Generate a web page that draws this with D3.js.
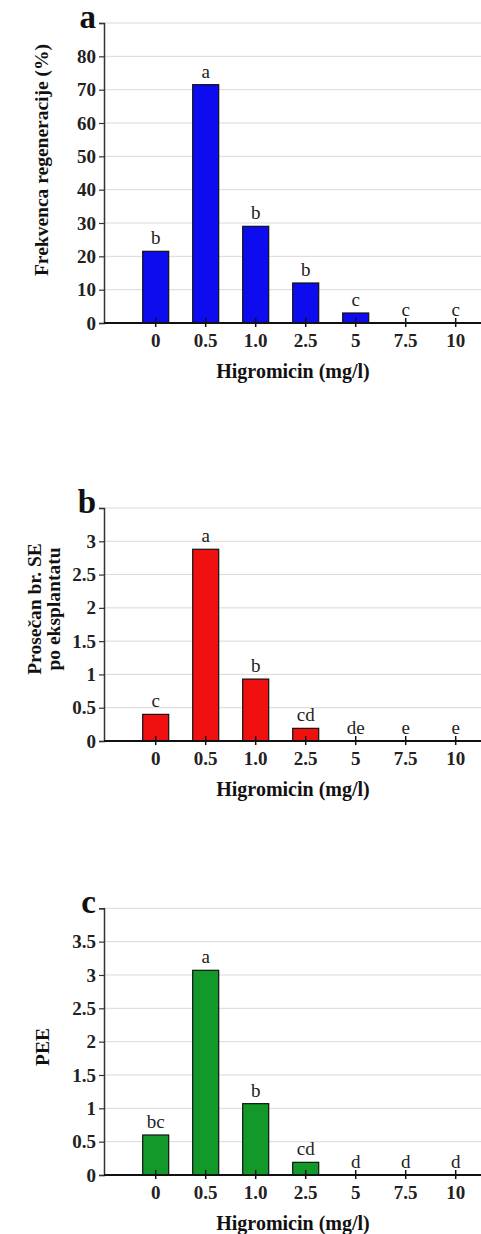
<!DOCTYPE html>
<html><head><meta charset="utf-8">
<script src="https://cdn.jsdelivr.net/npm/d3@7"></script>
<style>body{margin:0;background:#fff}svg{display:block}
svg text{font-family:"Liberation Serif","Tinos","Times New Roman","DejaVu Serif",serif;}</style>
</head><body>
<svg id="chart" width="481" height="1234"></svg>
<script>
const categories = ["0","0.5","1.0","2.5","5","7.5","10"];
const freqValues = [21.5,71.5,29,12,3,0,0];
const freqLetters = ["b","a","b","b","c","c","c"];
const freqTicks = [0,10,20,30,40,50,60,70,80,90];
const seValues = [0.4,2.88,0.93,0.19,0,0,0];
const seLetters = ["c","a","b","cd","de","e","e"];
const seTicks = [0,0.5,1,1.5,2,2.5,3,3.5];
const peeValues = [0.6,3.07,1.07,0.19,0,0,0];
const peeLetters = ["bc","a","b","cd","d","d","d"];
const peeTicks = [0,0.5,1,1.5,2,2.5,3,3.5,4];
const xTitle = "Higromicin (mg/l)";

const svg = d3.select("#chart");
const axisX = 104, rightX = 481;
const x = d3.scaleBand().domain(categories).range([130.7, 480.7]).paddingInner(0.48).paddingOuter(0.24);

function panel(o){
  const g = svg.append("g");
  const y = d3.scaleLinear().domain([0, o.max]).range([o.y0, o.yTop]);
  g.selectAll(".grid").data(o.ticks).join("line")
    .attr("x1", axisX).attr("x2", rightX)
    .attr("y1", d=>y(d)).attr("y2", d=>y(d))
    .attr("stroke", "#d9d9d9").attr("stroke-width", 1);
  const yAxis = d3.axisLeft(y).tickValues(o.ticks).tickSize(5).tickPadding(3)
    .tickFormat(d => d === o.max ? "" : String(d));
  const ya = g.append("g").attr("transform", `translate(${axisX},0)`).call(yAxis);
  ya.attr("font-family", null).attr("font-size", null);
  ya.select(".domain").attr("stroke", "#333").attr("stroke-width", 1.5);
  ya.selectAll(".tick line").attr("stroke", "#333").attr("stroke-width", 1.2);
  ya.selectAll(".tick text").attr("font-weight", "bold")
    .attr("font-size", 19).attr("fill", "#222");
  g.selectAll(".bar").data(o.values).join("rect")
    .attr("x", (d,i)=>x(categories[i]))
    .attr("width", x.bandwidth())
    .attr("y", d=>y(d))
    .attr("height", d=>y(0)-y(d))
    .attr("fill", o.color).attr("stroke", "#111").attr("stroke-width", 1.2);
  g.append("line").attr("x1", axisX).attr("x2", rightX).attr("y1", o.y0).attr("y2", o.y0)
    .attr("stroke", "#111").attr("stroke-width", 2);
  g.selectAll(".xt").data(categories).join("line")
    .attr("x1", d=>x(d)+x.bandwidth()/2).attr("x2", d=>x(d)+x.bandwidth()/2)
    .attr("y1", o.y0-5).attr("y2", o.y0+4).attr("stroke", "#111").attr("stroke-width", 1.5);
  g.selectAll(".xl").data(categories).join("text")
    .attr("x", d=>x(d)+x.bandwidth()/2).attr("y", o.y0+24)
    .attr("text-anchor", "middle").attr("font-weight", "bold")
    .attr("font-size", 19).attr("fill", "#222").text(d=>d);
  g.selectAll(".lt").data(o.letters).join("text")
    .attr("x", (d,i)=>x(categories[i])+x.bandwidth()/2)
    .attr("y", (d,i)=>y(o.values[i])-7)
    .attr("text-anchor", "middle")
    .attr("font-size", 19).attr("fill", "#222").text(d=>d);
  g.append("text").attr("x", 293).attr("y", o.y0+55).attr("text-anchor", "middle")
    .attr("font-weight", "bold").attr("font-size", 20)
    .attr("fill", "#111").text(xTitle);
  g.append("text").attr("x", 96).attr("y", o.yTop+5).attr("text-anchor", "end")
    .attr("font-weight", "bold").attr("font-size", 33)
    .attr("fill", "#111").text(o.label);
  const yt = g.append("text")
    .attr("transform", `translate(${o.ytX},${o.ytY}) rotate(-90)`)
    .attr("text-anchor", "middle").attr("font-weight", "bold")
    .attr("font-size", 19.5).attr("fill", "#111");
  o.yTitle.forEach((t,i)=>{
    yt.append("tspan").attr("x", 0).attr("dy", i===0 ? 0 : "0.95em").text(t);
  });
}

panel({values: freqValues, letters: freqLetters, ticks: freqTicks, max: 90,
  yTop: 23, y0: 323, color: "#0c0cee", label: "a",
  yTitle: ["Frekvenca regeneracije (%)"], ytX: 48, ytY: 160});
panel({values: seValues, letters: seLetters, ticks: seTicks, max: 3.5,
  yTop: 508, y0: 741, color: "#f01010", label: "b",
  yTitle: ["Prosečan br. SE", "po eksplantatu"], ytX: 41, ytY: 609});
panel({values: peeValues, letters: peeLetters, ticks: peeTicks, max: 4,
  yTop: 908.3, y0: 1175, color: "#12992a", label: "c",
  yTitle: ["PEE"], ytX: 49, ytY: 1047});
</script>
</body></html>
